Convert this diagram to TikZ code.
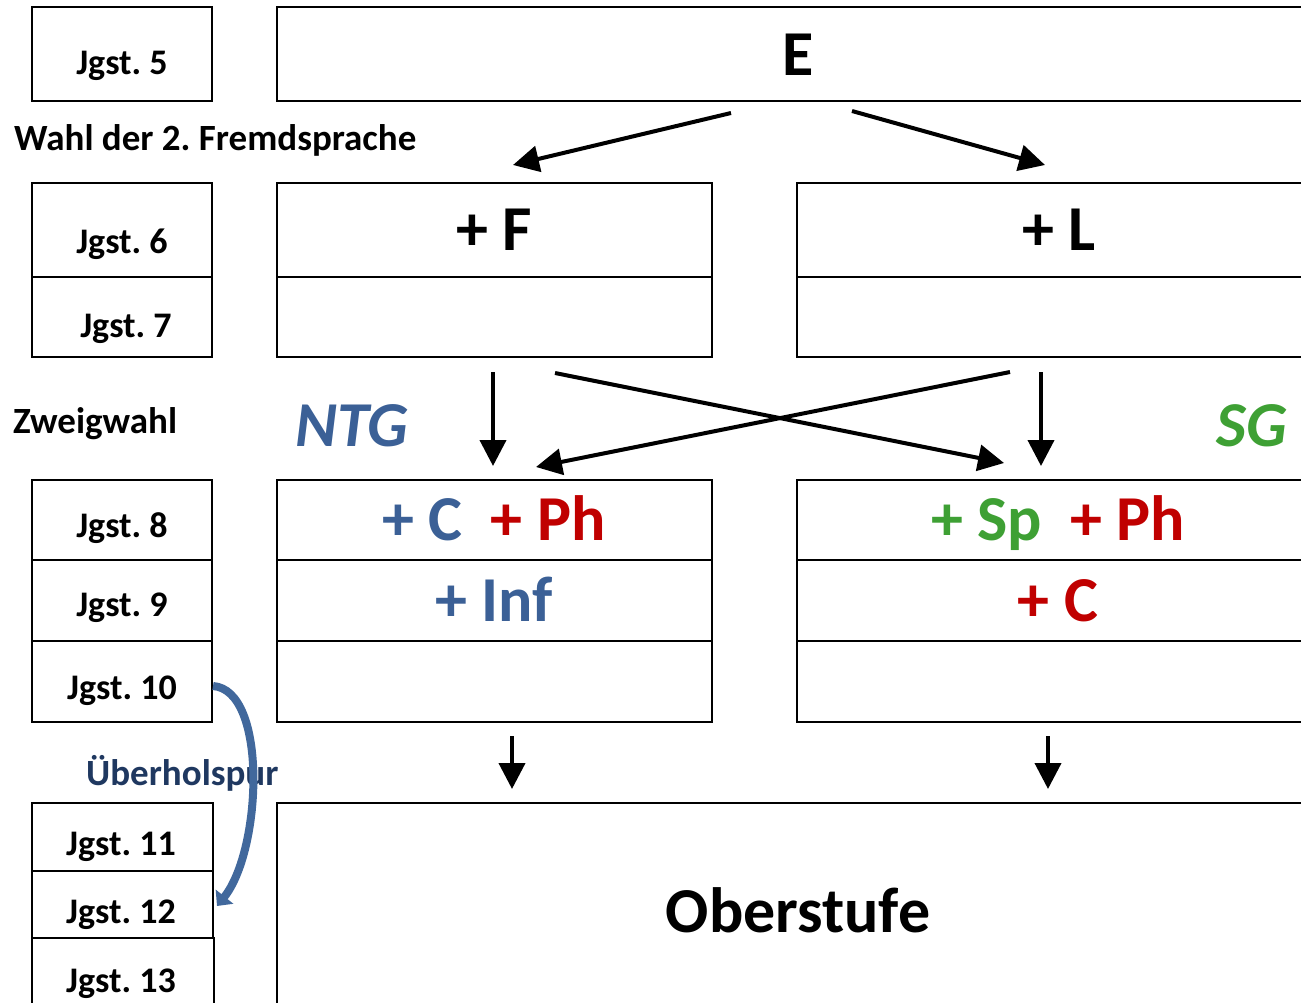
\documentclass[tikz,border=0pt]{standalone}
\usepackage{fontspec}
\setmainfont{Carlito}
\usetikzlibrary{arrows.meta}
\definecolor{ntgblue}{RGB}{59,96,150}
\definecolor{sgred}{RGB}{192,0,0}
\definecolor{sggreen}{RGB}{62,160,52}
\definecolor{darkblue}{RGB}{31,56,96}
\definecolor{curveblue}{RGB}{65,104,156}
\frenchspacing
\begin{document}
\begin{tikzpicture}[x=1pt,y=-1pt,
 box/.style={draw,line width=2pt,rectangle,anchor=north west,inner sep=0pt,outer sep=0pt},
 small/.style={font=\fontsize{36}{42}\selectfont\bfseries,anchor=base,inner sep=0pt},
 lbl/.style={font=\fontsize{37}{44}\selectfont\bfseries,anchor=base west,inner sep=0pt},
 big/.style={font=\fontsize{64}{74}\selectfont\bfseries,anchor=base,inner sep=0pt},
 arr/.style={line width=4pt,-{Triangle[length=26pt,width=26pt]}},
 curvearr/.style={line width=8pt,color=curveblue,-{Triangle[length=12pt,width=22pt]}}]
\clip (0,0) rectangle (1301,1002);
% left column boxes
\node[box,minimum width=180pt,minimum height=94pt] (b5) at (32,7) {};
\node[box,minimum width=180pt,minimum height=94pt] (b6) at (32,183) {};
\node[box,minimum width=180pt,minimum height=80pt] (b7) at (32,277) {};
\node[box,minimum width=180pt,minimum height=80pt] (b8) at (32,480) {};
\node[box,minimum width=180pt,minimum height=81pt] (b9) at (32,560) {};
\node[box,minimum width=180pt,minimum height=81pt] (b10) at (32,641) {};
\node[box,minimum width=181pt,minimum height=68pt] (b11) at (32,803) {};
\node[box,minimum width=181pt,minimum height=67pt] (b12) at (32,871) {};
\node[box,minimum width=182pt,minimum height=80pt] (b13) at (32,938) {};
% main boxes
\node[box,minimum width=1040pt,minimum height=94pt] (e) at (277,7) {};
\node[box,minimum width=435pt,minimum height=94pt] (f1) at (277,183) {};
\node[box,minimum width=435pt,minimum height=80pt] (f2) at (277,277) {};
\node[box,minimum width=520pt,minimum height=94pt] (l1) at (797,183) {};
\node[box,minimum width=520pt,minimum height=80pt] (l2) at (797,277) {};
\node[box,minimum width=435pt,minimum height=80pt] (n1) at (277,480) {};
\node[box,minimum width=435pt,minimum height=81pt] (n2) at (277,560) {};
\node[box,minimum width=435pt,minimum height=81pt] (n3) at (277,641) {};
\node[box,minimum width=520pt,minimum height=80pt] (s1) at (797,480) {};
\node[box,minimum width=520pt,minimum height=81pt] (s2) at (797,560) {};
\node[box,minimum width=520pt,minimum height=81pt] (s3) at (797,641) {};
\node[box,minimum width=1040pt,minimum height=220pt] (ob) at (277,803) {};
% left texts
\node[small] (t5) at (122,74) {Jgst. 5};
\node[small] (t6) at (122,253) {Jgst. 6};
\node[small] (t7) at (126,337) {Jgst. 7};
\node[small] (t8) at (122,537) {Jgst. 8};
\node[small] (t9) at (122,616) {Jgst. 9};
\node[small] (t10) at (122,699) {Jgst. 10};
\node[small] (t11) at (121,855) {Jgst. 11};
\node[small] (t12) at (121,923) {Jgst. 12};
\node[small] (t13) at (121,992) {Jgst. 13};
\node[lbl] (wahl) at (14,150) {Wahl der 2. Fremdsprache};
\node[lbl] (zweig) at (13,433) {Zweigwahl};
\node[lbl,text=darkblue] (ueber) at (86,785) {Überholspur};
% main texts
\node[big] (te) at (798,75) {E};
\node[big] (tf) at (494,250) {+ F};
\node[big] (tl) at (1059,250) {+ L};
\node[big,font=\fontsize{64}{74}\selectfont\bfseries\itshape,text=ntgblue] (ntg) at (352,446) {NTG};
\node[big,font=\fontsize{64}{74}\selectfont\bfseries\itshape,text=sggreen] (sg) at (1252,446) {SG};
\node[big] (tn1) at (494,540) {\textcolor{ntgblue}{+ C}\hspace{28pt}\textcolor{sgred}{+ Ph}};
\node[big,text=ntgblue] (tn2) at (494,621) {+ Inf};
\node[big] (ts1) at (1058,540) {\textcolor{sggreen}{+ Sp}\hspace{28pt}\textcolor{sgred}{+ Ph}};
\node[big,text=sgred] (ts2) at (1058,621) {+ C};
\node[big] (tob) at (798,932) {Oberstufe};
% arrow end points
\coordinate (a1s) at (731,113); \coordinate (a1e) at (513,165);
\coordinate (a2s) at (852,111); \coordinate (a2e) at (1045,165);
\coordinate (a3s) at (493,372); \coordinate (a3e) at (493,466);
\coordinate (a4s) at (555,373); \coordinate (a4e) at (1004,463);
\coordinate (a5s) at (1010,372); \coordinate (a5e) at (536,467);
\coordinate (a6s) at (1041,372); \coordinate (a6e) at (1041,466);
\coordinate (a7s) at (512,736); \coordinate (a7e) at (512,789);
\coordinate (a8s) at (1048,736); \coordinate (a8e) at (1048,789);
\coordinate (cs) at (213,686); \coordinate (ce) at (217,906);
\draw[arr] (a1s) -- (a1e);
\draw[arr] (a2s) -- (a2e);
\draw[arr] (a3s) -- (a3e);
\draw[arr] (a4s) -- (a4e);
\draw[arr] (a5s) -- (a5e);
\draw[arr] (a6s) -- (a6e);
\draw[arr] (a7s) -- (a7e);
\draw[arr] (a8s) -- (a8e);
\draw[curvearr] (cs) .. controls (268,690) and (262,850) .. (ce);
\end{tikzpicture}
\end{document}
